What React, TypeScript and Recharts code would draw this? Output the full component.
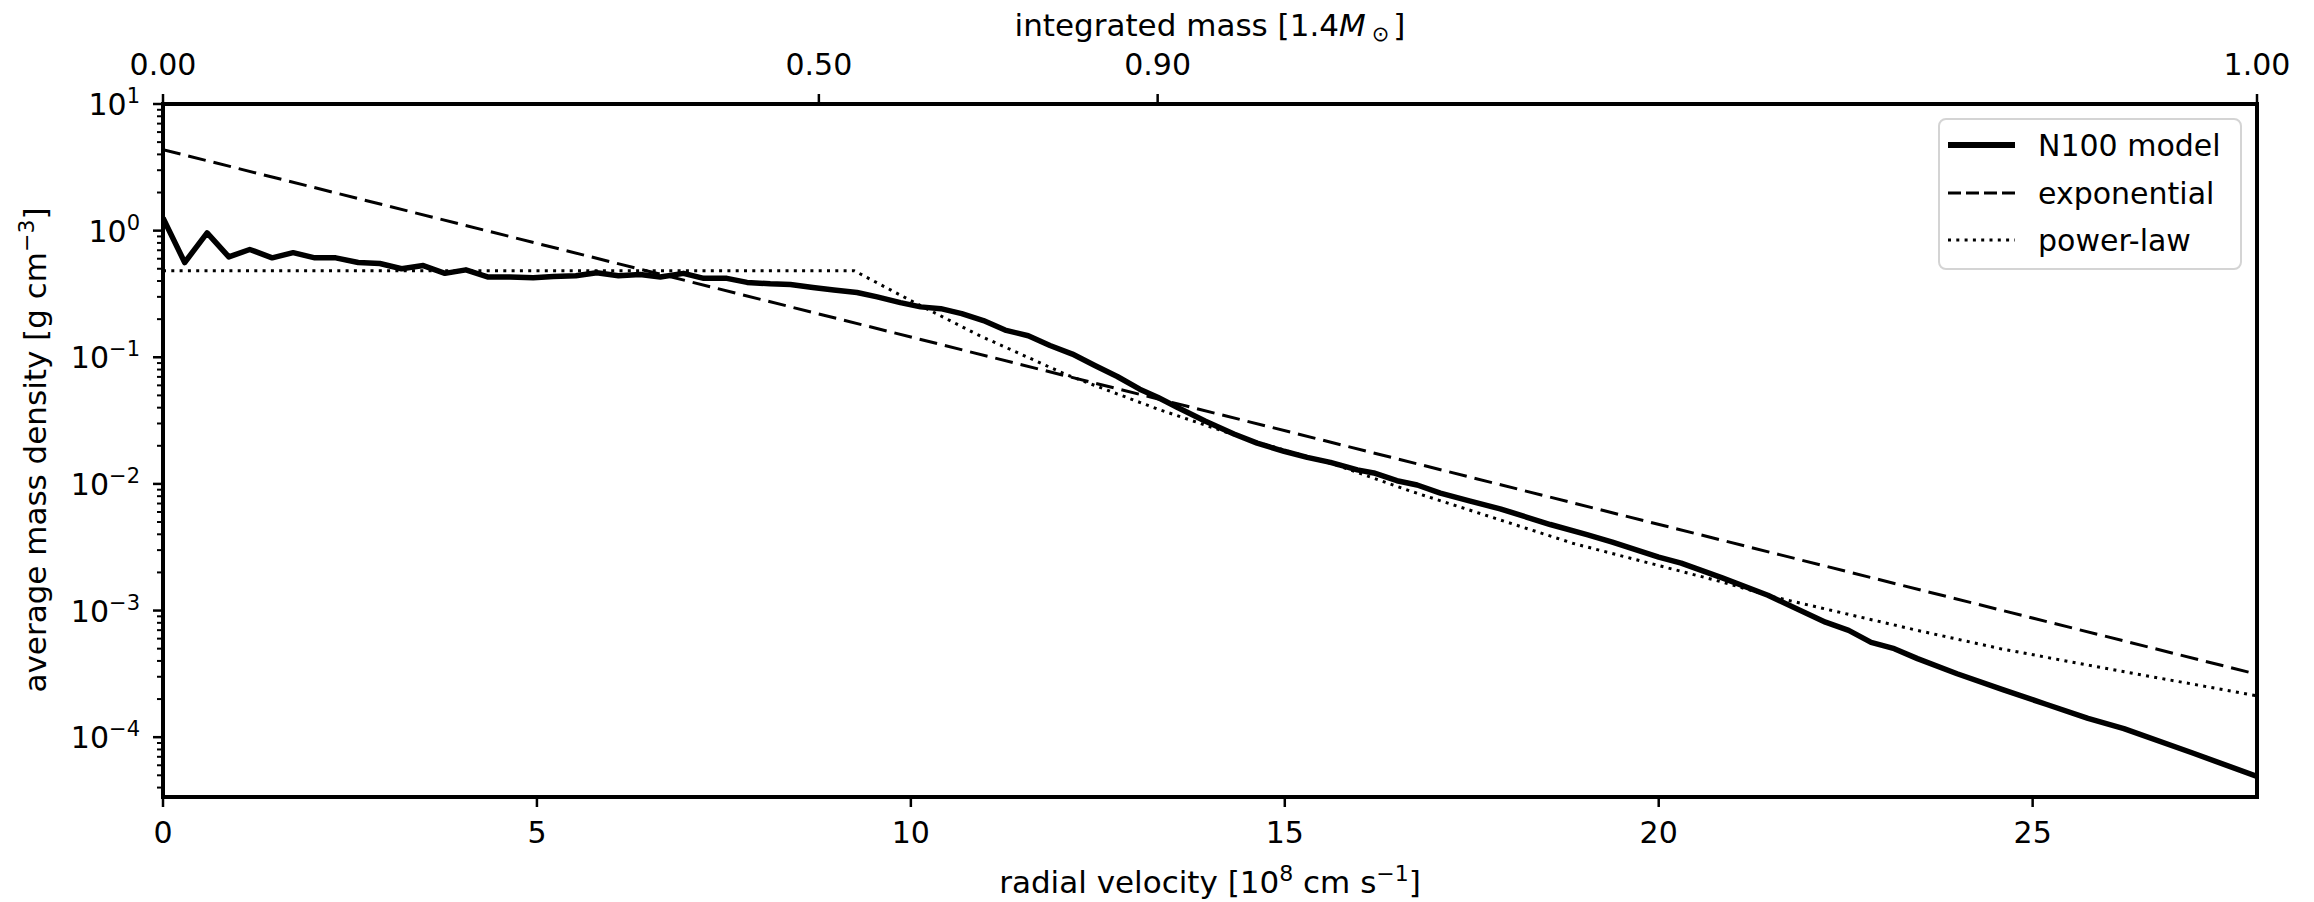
import React from 'react';
import { LineChart, Line, XAxis, YAxis, ReferenceLine } from 'recharts';

// N100 model (radial velocity in 1e8 cm/s, density in g/cm^3)
const n100Velocity = [
  0, 0.29, 0.59, 0.88, 1.16, 1.46, 1.74, 2.03, 2.31, 2.61, 2.9, 3.19, 3.48, 3.77, 4.05,
  4.35, 4.64, 4.95, 5.22, 5.52, 5.8, 6.09, 6.38, 6.65, 6.96, 7.23, 7.54, 7.81, 8.12, 8.39,
  8.69, 8.97, 9.28, 9.55, 9.86, 10.13, 10.4, 10.68, 10.97, 11.26, 11.57, 11.86, 12.16, 12.46,
  12.76, 13.06, 13.3, 13.56, 13.94, 14.32, 14.63, 14.99, 15.3, 15.61, 15.97, 16.19, 16.5,
  16.77, 17.08, 17.48, 17.88, 18.55, 19.04, 19.38, 20.0, 20.3, 20.85, 21.46, 22.23, 22.54,
  22.84, 23.15, 23.46, 23.99, 24.61, 25.18, 25.74, 26.22, 27.14, 28.0,
];
const n100Density = [
  1.26, 0.56, 0.96, 0.62, 0.71, 0.61, 0.67, 0.61, 0.61, 0.56, 0.55, 0.5, 0.53, 0.46, 0.49,
  0.43, 0.43, 0.425, 0.435, 0.44, 0.465, 0.44, 0.45, 0.43, 0.46, 0.42, 0.42, 0.39, 0.38, 0.375,
  0.356, 0.34, 0.325, 0.3, 0.27, 0.25, 0.242, 0.221, 0.195, 0.164, 0.148, 0.124, 0.106, 0.086,
  0.0705, 0.056, 0.0483, 0.0403, 0.0313, 0.0248, 0.021, 0.0181, 0.0162, 0.0148, 0.0129, 0.0122,
  0.0106, 0.0098, 0.00845, 0.0073, 0.00636, 0.00478, 0.00398, 0.00347, 0.00264, 0.00237,
  0.00181, 0.00132, 0.00081, 0.000697, 0.00056, 0.0005, 0.000417, 0.000317, 0.000236,
  0.000182, 0.000141, 0.000117, 0.000075, 0.000049,
];

const exponentialVelocity = [0, 28];
const exponentialDensity = [4.36, 3.14e-4];

const powerLawVelocity = [0, 9.24, 10.0, 10.9, 12.1, 13.3, 14.5, 15.7, 16.7, 18.85, 20.85, 21.54, 23.46, 24.57, 25.76, 28];
const powerLawDensity = [
  0.483, 0.483, 0.28, 0.15, 0.072, 0.039, 0.0225, 0.014, 0.0087, 0.0034, 0.00168, 0.00128,
  0.000697, 0.0005, 0.000369, 0.000212,
];

const velocityTicks = [0, 5, 10, 15, 20, 25];
const massTickVelocity = [0, 8.77, 13.3, 28];
const massTickLabels = ['0.00', '0.50', '0.90', '1.00'];

const Y_MIN = 3.37e-5;
const Y_MAX = 10;
const FONT = "'DejaVu Sans', sans-serif";

const zip = (vs: number[], rs: number[]) => vs.map((v, i) => ({ v, rho: rs[i] }));
const n100 = zip(n100Velocity, n100Density);
const exponential = zip(exponentialVelocity, exponentialDensity);
const powerLaw = zip(powerLawVelocity, powerLawDensity);

// major + minor log ticks
const densityTicks: number[] = [];
for (let e = -5; e <= 1; e++) {
  for (let m = 1; m <= 9; m++) {
    const t = m * Math.pow(10, e);
    if (t >= Y_MIN && t <= Y_MAX * 1.0001) densityTicks.push(t);
  }
}

const DensityTick = ({ x, y, payload }: any) => {
  const lg = Math.log10(payload.value);
  const exp = Math.round(lg);
  const major = Math.abs(lg - exp) < 1e-6;
  return (
    <g>
      <line x1={x - (major ? 10 : 6)} x2={x} y1={y} y2={y} stroke="#000" strokeWidth={major ? 2.5 : 2} />
      {major && (
        <text x={x - 23} y={y + 11} textAnchor="end" fontSize={30} fontFamily={FONT} fill="#000">
          10
          <tspan dy={-12} fontSize={21}>{exp < 0 ? `\u2212${-exp}` : `${exp}`}</tspan>
        </text>
      )}
    </g>
  );
};

const VelocityTick = ({ x, y, payload }: any) => (
  <g>
    <line x1={x} x2={x} y1={y} y2={y + 10} stroke="#000" strokeWidth={2.5} />
    <text x={x} y={y + 46} textAnchor="middle" fontSize={30} fontFamily={FONT} fill="#000">
      {payload.value}
    </text>
  </g>
);

const MassTick = ({ x, y, payload }: any) => {
  const i = massTickVelocity.indexOf(payload.value);
  return (
    <g>
      <line x1={x} x2={x} y1={y - 10} y2={y} stroke="#000" strokeWidth={2.5} />
      <text x={x} y={y - 29} textAnchor="middle" fontSize={30} fontFamily={FONT} fill="#000">
        {massTickLabels[i]}
      </text>
    </g>
  );
};

const VelocityLabel = () => (
  <text x={1210} y={893} textAnchor="middle" fontSize={31} fontFamily={FONT} fill="#000">
    radial velocity [10
    <tspan dy={-12} fontSize={22}>8</tspan>
    <tspan dy={12}> cm s</tspan>
    <tspan dy={-12} fontSize={22}>{'\u22121'}</tspan>
    <tspan dy={12}>]</tspan>
  </text>
);

const MassLabel = () => (
  <text x={1210} y={36} textAnchor="middle" fontSize={31} fontFamily={FONT} fill="#000">
    integrated mass [1.4
    <tspan fontStyle="italic">M</tspan>
    <tspan dx={6} dy={5} fontSize={21}>{'\u2299'}</tspan>
    <tspan dx={4} dy={-5}>]</tspan>
  </text>
);

const DensityLabel = () => (
  <text transform="rotate(-90)" x={-450} y={46} textAnchor="middle" fontSize={31} fontFamily={FONT} fill="#000">
    average mass density [g cm
    <tspan dy={-12} fontSize={22}>{'\u22123'}</tspan>
    <tspan dy={12}>]</tspan>
  </text>
);

const spine = { stroke: '#000', strokeWidth: 4, strokeLinecap: 'square' as const };

const LegendBox = () => (
  <div
    style={{
      position: 'absolute', left: 1938, top: 118, width: 304, height: 152, boxSizing: 'border-box',
      border: '2px solid #d4d4d4', borderRadius: 8, background: 'rgba(255,255,255,0.8)',
    }}
  >
    <svg width={300} height={148}>
      <line x1={8} x2={75} y1={25} y2={25} stroke="#000" strokeWidth={6} />
      <line x1={8} x2={75} y1={73} y2={73} stroke="#000" strokeWidth={3} strokeDasharray="13 5" />
      <line x1={8} x2={75} y1={120} y2={120} stroke="#000" strokeWidth={3} strokeDasharray="3 5.3" />
      <text x={98} y={36} fontSize={30} fontFamily={FONT} fill="#000">N100 model</text>
      <text x={98} y={84} fontSize={30} fontFamily={FONT} fill="#000">exponential</text>
      <text x={98} y={131} fontSize={30} fontFamily={FONT} fill="#000">power-law</text>
    </svg>
  </div>
);

export default function App() {
  return (
    <div style={{ position: 'absolute', left: 0, top: 0, width: 2314, height: 902, background: '#fff' }}>
      <LineChart width={2314} height={902} margin={{ top: 0, right: 57, bottom: 0, left: 0 }}>
        <XAxis
          xAxisId="v" dataKey="v" type="number" domain={[0, 28]} allowDataOverflow
          ticks={velocityTicks} interval={0} height={105}
          tickSize={0} tickMargin={0} tickLine={false} tick={<VelocityTick />}
          axisLine={spine} label={<VelocityLabel />}
        />
        <XAxis
          xAxisId="mass" orientation="top" dataKey="v" type="number" domain={[0, 28]} allowDataOverflow
          ticks={massTickVelocity} interval={0} height={104}
          tickSize={0} tickMargin={0} tickLine={false} tick={<MassTick />}
          axisLine={spine} label={<MassLabel />}
        />
        <YAxis
          yAxisId="rho" type="number" scale="log" domain={[Y_MIN, Y_MAX]} allowDataOverflow
          ticks={densityTicks} interval={0} width={163}
          tickSize={0} tickMargin={0} tickLine={false} tick={<DensityTick />}
          axisLine={spine} label={<DensityLabel />}
        />
        <ReferenceLine xAxisId="v" yAxisId="rho" x={28} stroke="#000" strokeWidth={4} />
        <Line
          data={n100} xAxisId="v" yAxisId="rho" dataKey="rho" type="linear" dot={false}
          stroke="#000" strokeWidth={5.5} strokeLinejoin="round" isAnimationActive={false}
        />
        <Line
          data={exponential} xAxisId="v" yAxisId="rho" dataKey="rho" type="linear" dot={false}
          stroke="#000" strokeWidth={3} strokeDasharray="18 8" isAnimationActive={false}
        />
        <Line
          data={powerLaw} xAxisId="v" yAxisId="rho" dataKey="rho" type="linear" dot={false}
          stroke="#000" strokeWidth={3} strokeDasharray="3 5.3" isAnimationActive={false}
        />
      </LineChart>
      <LegendBox />
    </div>
  );
}
